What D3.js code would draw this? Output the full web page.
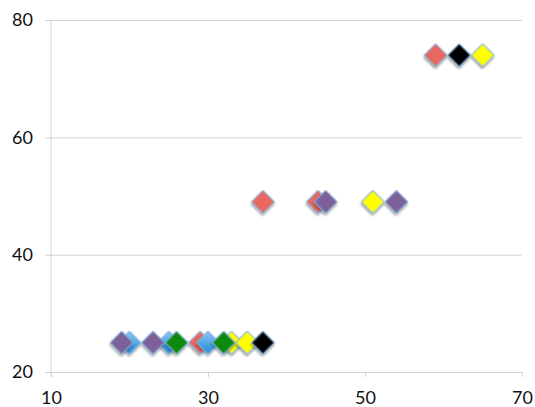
<!DOCTYPE html>
<html>
<head>
<meta charset="utf-8">
<script src="https://cdn.jsdelivr.net/npm/d3@7"></script>
<style>
  body { margin: 0; background: #fff; }
  text { font-family: Lato, "Open Sans", sans-serif; }
</style>
</head>
<body>
<div id="chart"></div>
<script>
// Data, one array per series
const seriesNames = ["red", "blue", "yellow", "green", "black", "purple"];
const redX = [59, 37, 44, 29],     redY = [74, 49, 49, 25];
const blueX = [20, 25, 30],        blueY = [25, 25, 25];
const yellowX = [65, 51, 33, 35],  yellowY = [74, 49, 25, 25];
const greenX = [26, 32],           greenY = [25, 25];
const blackX = [62, 37],           blackY = [74, 25];
const purpleX = [45, 54, 19, 23],  purpleY = [49, 49, 25, 25];
const xTicks = [10, 30, 50, 70];
const yTicks = [20, 40, 60, 80];

const seriesX = [redX, blueX, yellowX, greenX, blackX, purpleX];
const seriesY = [redY, blueY, yellowY, greenY, blackY, purpleY];
const fills = ["#E8685F", "url(#blueGrad)", "#FFFF00", "#0A8A0A", "#000000", "#7D5F99"];

const W = 535, H = 407;
const margin = {top: 20, right: 13, bottom: 35, left: 51};
const width = W - margin.left - margin.right,
      height = H - margin.top - margin.bottom;

const svgRoot = d3.select("#chart").append("svg")
  .attr("width", W)
  .attr("height", H);

const defs = svgRoot.append("defs");
defs.append("filter")
  .attr("id", "shadow")
  .attr("x", "-50%").attr("y", "-50%")
  .attr("width", "200%").attr("height", "200%")
  .append("feDropShadow")
    .attr("dx", 1).attr("dy", 1.5)
    .attr("stdDeviation", 1)
    .attr("flood-color", "#000")
    .attr("flood-opacity", 0.45);
const grad = defs.append("linearGradient")
  .attr("id", "blueGrad")
  .attr("x1", 0).attr("y1", 0).attr("x2", 0).attr("y2", 1)
  .attr("gradientTransform", "rotate(-45 0.5 0.5)");
grad.append("stop").attr("offset", "0%").attr("stop-color", "#7DBDF2");
grad.append("stop").attr("offset", "100%").attr("stop-color", "#2E93DB");

const svg = svgRoot.append("g")
  .attr("transform", `translate(${margin.left},${margin.top})`);

const x = d3.scaleLinear().domain([10, 70]).range([0, width]);
const y = d3.scaleLinear().domain([20, 80]).range([height, 0]);

// Gridlines + y axis
const yAxis = svg.append("g")
  .call(d3.axisLeft(y).tickValues(yTicks).tickSize(6).tickPadding(12).tickFormat(d3.format("d")));
yAxis.select(".domain").remove();
yAxis.selectAll(".tick line")
  .attr("x1", -6).attr("x2", width)
  .attr("stroke", "#D4D4D4");
yAxis.selectAll("text")
  .attr("font-size", 18).attr("fill", "#111")
  .style("font-family", "Lato, 'Open Sans', sans-serif");

// x axis
const xAxis = svg.append("g")
  .attr("transform", `translate(0,${height})`)
  .call(d3.axisBottom(x).tickValues(xTicks).tickSize(5).tickPadding(14).tickFormat(d3.format("d")));
xAxis.select(".domain").attr("stroke", "#D4D4D4");
xAxis.selectAll(".tick line").attr("stroke", "#D4D4D4");
xAxis.selectAll("text")
  .attr("font-size", 18).attr("fill", "#111")
  .style("font-family", "Lato, 'Open Sans', sans-serif");

// vertical axis line
svg.append("line")
  .attr("x1", 0).attr("x2", 0)
  .attr("y1", 0).attr("y2", height + 5)
  .attr("stroke", "#D4D4D4");

// Points
const diamond = d3.symbol().type(d3.symbolSquare).size(260);
seriesNames.forEach((name, i) => {
  const pts = seriesX[i].map((v, j) => ({x: v, y: seriesY[i][j]}));
  svg.append("g")
    .attr("class", "series-" + name)
    .selectAll("path")
    .data(pts)
    .join("path")
      .attr("d", diamond)
      .attr("transform", d => `translate(${x(d.x)},${y(d.y)}) rotate(45)`)
      .attr("fill", fills[i])
      .attr("stroke", "#7FB3DD")
      .attr("stroke-width", 1)
      .attr("filter", "url(#shadow)");
});
</script>
</body>
</html>
